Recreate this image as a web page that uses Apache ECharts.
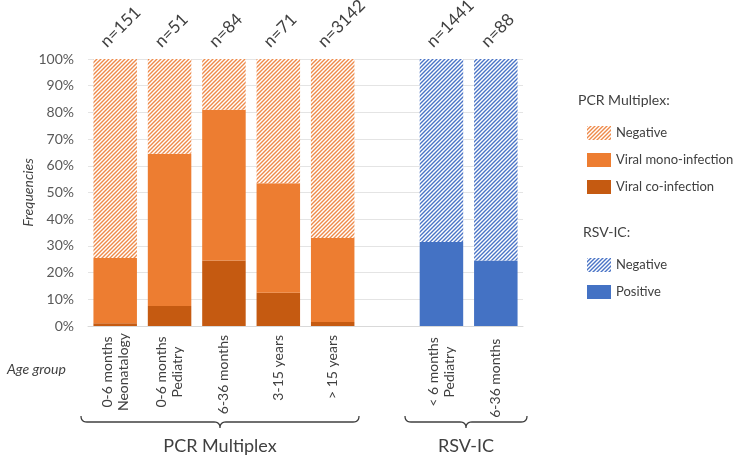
<!DOCTYPE html>
<html>
<head>
<meta charset="utf-8">
<script src="https://cdn.jsdelivr.net/npm/echarts@6/dist/echarts.min.js"></script>
<style>html,body{margin:0;padding:0;background:#fff}#c{width:742px;height:459px}</style>
</head>
<body>
<div id="c"></div>
<script>
// ---- data ----
var categories = ['0-6 months\nNeonatalogy', '0-6 months\nPediatry', '6-36 months', '3-15 years', '> 15 years', '', '< 6 months\nPediatry', '6-36 months '];
var nLabels = ['n=151', 'n=51', 'n=84', 'n=71', 'n=3142', '', 'n=1441', 'n=88'];
var pcrCoInfection   = [1.0, 7.5, 24.5, 12.5, 1.5, null, null, null];
var pcrMonoInfection = [24.5, 57.0, 56.5, 41.0, 31.5, null, null, null];
var pcrNegative      = [74.5, 35.5, 19.0, 46.5, 67.0, null, null, null];
var rsvPositive      = [null, null, null, null, null, null, 31.5, 24.5];
var rsvNegative      = [null, null, null, null, null, null, 68.5, 75.5];
var yTicks = [0, 10, 20, 30, 40, 50, 60, 70, 80, 90, 100];

// ---- styling helpers ----
function hatch(color) {
  var c = document.createElement('canvas');
  c.width = 4; c.height = 4;
  var g = c.getContext('2d');
  g.fillStyle = '#ffffff';
  g.fillRect(0, 0, 4, 4);
  g.strokeStyle = color;
  g.lineWidth = 1.4;
  g.beginPath();
  g.moveTo(-1, 5); g.lineTo(5, -1);
  g.moveTo(-3, 3); g.lineTo(3, -3);
  g.moveTo(1, 7); g.lineTo(7, 1);
  g.stroke();
  return { image: c, repeat: 'repeat' };
}
// curly brace outline as polyline points
function bracePoints(x0, x1, yTop, yMid, yTip) {
  var pts = [];
  var xm = (x0 + x1) / 2, r = 6;
  function quad(p0, p1, p2) {
    for (var i = 0; i <= 6; i++) {
      var t = i / 6, a = (1 - t) * (1 - t), b = 2 * (1 - t) * t, c = t * t;
      pts.push([a * p0[0] + b * p1[0] + c * p2[0], a * p0[1] + b * p1[1] + c * p2[1]]);
    }
  }
  quad([x0, yTop], [x0, yMid], [x0 + r, yMid]);
  quad([xm - r, yMid], [xm, yMid], [xm, yTip]);
  quad([xm, yTip], [xm, yMid], [xm + r, yMid]);
  quad([x1 - r, yMid], [x1, yMid], [x1, yTop]);
  return pts;
}
var txt = '#404040';
var FONT = 'Lato';

var chart = echarts.init(document.getElementById('c'), null, { renderer: 'canvas' });

var nLabel = {
  show: true,
  position: 'top',
  distance: 14,
  rotate: 45,
  align: 'left',
  verticalAlign: 'middle',
  offset: [-8, -9],
  color: txt,
  fontFamily: FONT,
  fontSize: 17,
  formatter: function (p) { return nLabels[p.dataIndex]; }
};

function xLabelFmt(v) {
  if (v.indexOf('\n') >= 0) {
    var parts = v.split('\n');
    return '{w|' + parts[0] + '}\n{w|' + parts[1] + '}';
  }
  return v;
}

chart.setOption({
  animation: false,
  backgroundColor: '#ffffff',
  textStyle: { fontFamily: FONT },
  grid: { left: 88, right: 219, top: 59, bottom: 133 },
  xAxis: {
    type: 'category',
    data: categories,
    axisLine: { show: true, lineStyle: { color: '#D9D9D9' } },
    axisTick: { show: false },
    axisLabel: {
      rotate: 90,
      interval: 0,
      margin: 9,
      color: txt,
      fontFamily: FONT,
      fontSize: 14,
      lineHeight: 16,
      formatter: xLabelFmt,
      rich: { w: { width: 74, align: 'center', fontFamily: FONT, fontSize: 14, color: txt, lineHeight: 16 } }
    }
  },
  yAxis: {
    type: 'value',
    min: yTicks[0],
    max: yTicks[yTicks.length - 1],
    interval: 10,
    name: 'Frequencies',
    nameLocation: 'middle',
    nameGap: 53,
    nameMoveOverlap: false,
    nameTextStyle: { fontStyle: 'italic', color: txt, fontFamily: FONT, fontSize: 14 },
    axisLine: { show: false },
    axisTick: { show: false },
    splitLine: { lineStyle: { color: '#E4E4E4' } },
    axisLabel: { color: '#595959', fontFamily: FONT, fontSize: 14, margin: 14, formatter: '{value}%' }
  },
  legend: [
    {
      orient: 'vertical', left: 582, top: 121,
      itemWidth: 24, itemHeight: 14, itemGap: 13,
      icon: 'rect',
      data: ['PCR Negative', 'Viral mono-infection', 'Viral co-infection'],
      formatter: function (n) { return n.replace('PCR ', ''); },
      textStyle: { color: txt, fontFamily: FONT, fontSize: 13 },
      selectedMode: false
    },
    {
      orient: 'vertical', left: 582, top: 253,
      itemWidth: 24, itemHeight: 14, itemGap: 13,
      icon: 'rect',
      data: ['RSV Negative', 'RSV Positive'],
      formatter: function (n) { return n.replace('RSV ', ''); },
      textStyle: { color: txt, fontFamily: FONT, fontSize: 13 },
      selectedMode: false
    }
  ],
  series: [
    { name: 'Viral co-infection', type: 'bar', stack: 's', barWidth: '80%', data: pcrCoInfection, itemStyle: { color: '#C55A11' } },
    { name: 'Viral mono-infection', type: 'bar', stack: 's', barWidth: '80%', data: pcrMonoInfection, itemStyle: { color: '#ED7D31' } },
    { name: 'PCR Negative', type: 'bar', stack: 's', barWidth: '80%', data: pcrNegative, itemStyle: { color: hatch('#EE8A4A') }, label: nLabel },
    { name: 'RSV Positive', type: 'bar', stack: 's', barWidth: '80%', data: rsvPositive, itemStyle: { color: '#4472C4' } },
    { name: 'RSV Negative', type: 'bar', stack: 's', barWidth: '80%', data: rsvNegative, itemStyle: { color: hatch('#4A74C6') }, label: nLabel }
  ],
  graphic: [
    { type: 'text', left: 7, top: 362, style: { text: 'Age group', fill: txt, font: 'italic 14px ' + FONT } },
    { type: 'text', left: 578, top: 93, style: { text: 'PCR Multiplex:', fill: txt, font: '14px ' + FONT } },
    { type: 'text', left: 583, top: 225, style: { text: 'RSV-IC:', fill: txt, font: '14px ' + FONT } },
    { type: 'polyline', shape: { points: bracePoints(81, 359, 416, 422, 428) },
      style: { fill: null, stroke: '#404040', lineWidth: 1.3 } },
    { type: 'polyline', shape: { points: bracePoints(405, 527, 416, 422, 428) },
      style: { fill: null, stroke: '#404040', lineWidth: 1.3 } },
    { type: 'text', x: 220, y: 446, style: { text: 'PCR Multiplex', fill: txt, font: '18px ' + FONT, textAlign: 'center', textVerticalAlign: 'middle' } },
    { type: 'text', x: 466, y: 446, style: { text: 'RSV-IC', fill: txt, font: '18px ' + FONT, textAlign: 'center', textVerticalAlign: 'middle' } }
  ]
});
</script>
</body>
</html>
